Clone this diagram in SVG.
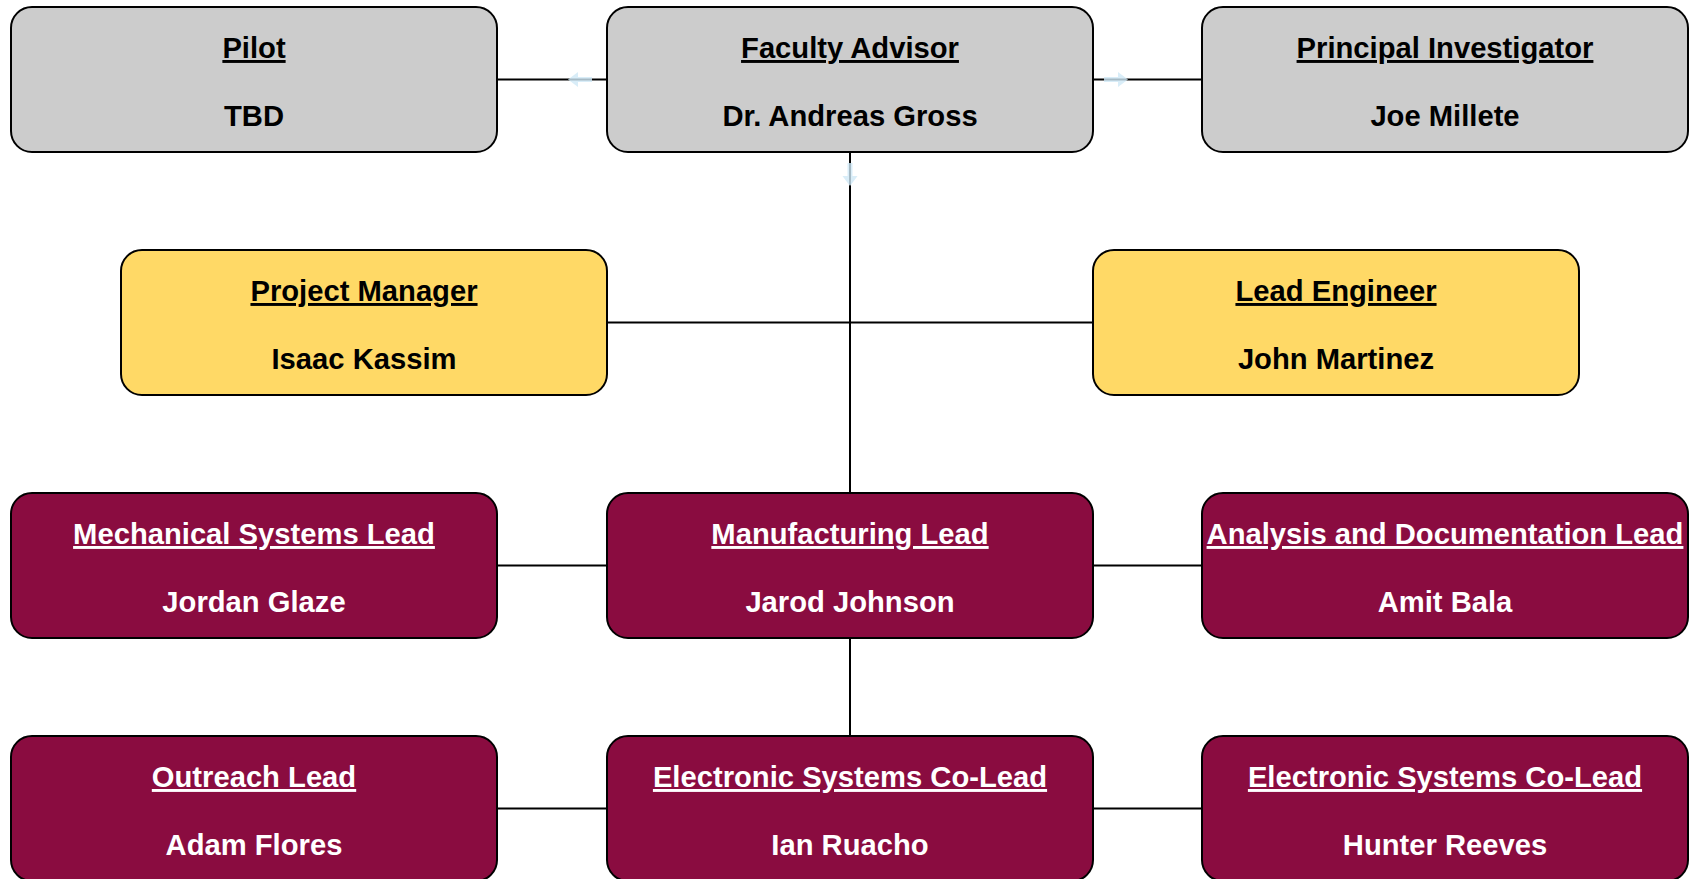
<svg xmlns="http://www.w3.org/2000/svg" width="1690" height="879" viewBox="0 0 1690 879">
  <style>
    .box { stroke: #000; stroke-width: 2; }
    .gray { fill: #cccccc; }
    .gold { fill: #ffd966; }
    .maroon { fill: #8a0c40; }
    text { font-family: "Liberation Sans", Arial, Helvetica, sans-serif; font-weight: bold; font-size: 29.2px; text-anchor: middle; }
    .title { text-decoration: underline; }
    .dark { fill: #000; }
    .light { fill: #fff; }
    .wire { stroke: #000; stroke-width: 2; fill: none; }
    .hint { fill: #cfe8f6; opacity: 0.8; }
  </style>

  <!-- connectors -->
  <g id="connectors">
    <line class="wire" x1="497" y1="79.5" x2="607" y2="79.5"/>
    <line class="wire" x1="1093" y1="79.5" x2="1202" y2="79.5"/>
    <line class="wire" x1="850" y1="152" x2="850" y2="493"/>
    <line class="wire" x1="607" y1="322.5" x2="1093" y2="322.5"/>
    <line class="wire" x1="497" y1="565.5" x2="607" y2="565.5"/>
    <line class="wire" x1="1093" y1="565.5" x2="1202" y2="565.5"/>
    <line class="wire" x1="850" y1="638" x2="850" y2="736"/>
    <line class="wire" x1="497" y1="808.5" x2="607" y2="808.5"/>
    <line class="wire" x1="1093" y1="808.5" x2="1202" y2="808.5"/>
    <!-- faint direction hints around the advisor box -->
    <path class="hint" d="M568 79.5 L578 72 L578 77 L592 77 L592 82 L578 82 L578 87 Z"/>
    <path class="hint" d="M1128 79.5 L1118 72 L1118 77 L1104 77 L1104 82 L1118 82 L1118 87 Z"/>
    <path class="hint" d="M850 186 L842.5 176 L847.5 176 L847.5 163 L852.5 163 L852.5 176 L857.5 176 Z"/>
  </g>

  <!-- row 1 -->
  <g id="pilot">
    <rect class="box gray" x="11" y="7" width="486" height="145" rx="21"/>
    <text class="title dark" x="254" y="58">Pilot</text>
    <text class="dark" x="254" y="126">TBD</text>
  </g>
  <g id="faculty-advisor">
    <rect class="box gray" x="607" y="7" width="486" height="145" rx="21"/>
    <text class="title dark" x="850" y="58">Faculty Advisor</text>
    <text class="dark" x="850" y="126">Dr. Andreas Gross</text>
  </g>
  <g id="principal-investigator">
    <rect class="box gray" x="1202" y="7" width="486" height="145" rx="21"/>
    <text class="title dark" x="1445" y="58">Principal Investigator</text>
    <text class="dark" x="1445" y="126">Joe Millete</text>
  </g>

  <!-- row 2 -->
  <g id="project-manager">
    <rect class="box gold" x="121" y="250" width="486" height="145" rx="21"/>
    <text class="title dark" x="364" y="301">Project Manager</text>
    <text class="dark" x="364" y="369">Isaac Kassim</text>
  </g>
  <g id="lead-engineer">
    <rect class="box gold" x="1093" y="250" width="486" height="145" rx="21"/>
    <text class="title dark" x="1336" y="301">Lead Engineer</text>
    <text class="dark" x="1336" y="369">John Martinez</text>
  </g>

  <!-- row 3 -->
  <g id="mechanical-systems-lead">
    <rect class="box maroon" x="11" y="493" width="486" height="145" rx="21"/>
    <text class="title light" x="254" y="544">Mechanical Systems Lead</text>
    <text class="light" x="254" y="612">Jordan Glaze</text>
  </g>
  <g id="manufacturing-lead">
    <rect class="box maroon" x="607" y="493" width="486" height="145" rx="21"/>
    <text class="title light" x="850" y="544">Manufacturing Lead</text>
    <text class="light" x="850" y="612">Jarod Johnson</text>
  </g>
  <g id="analysis-documentation-lead">
    <rect class="box maroon" x="1202" y="493" width="486" height="145" rx="21"/>
    <text class="title light" x="1445" y="544">Analysis and Documentation Lead</text>
    <text class="light" x="1445" y="612">Amit Bala</text>
  </g>

  <!-- row 4 -->
  <g id="outreach-lead">
    <rect class="box maroon" x="11" y="736" width="486" height="145" rx="21"/>
    <text class="title light" x="254" y="787">Outreach Lead</text>
    <text class="light" x="254" y="855">Adam Flores</text>
  </g>
  <g id="electronic-co-lead-1">
    <rect class="box maroon" x="607" y="736" width="486" height="145" rx="21"/>
    <text class="title light" x="850" y="787">Electronic Systems Co-Lead</text>
    <text class="light" x="850" y="855">Ian Ruacho</text>
  </g>
  <g id="electronic-co-lead-2">
    <rect class="box maroon" x="1202" y="736" width="486" height="145" rx="21"/>
    <text class="title light" x="1445" y="787">Electronic Systems Co-Lead</text>
    <text class="light" x="1445" y="855">Hunter Reeves</text>
  </g>
</svg>
